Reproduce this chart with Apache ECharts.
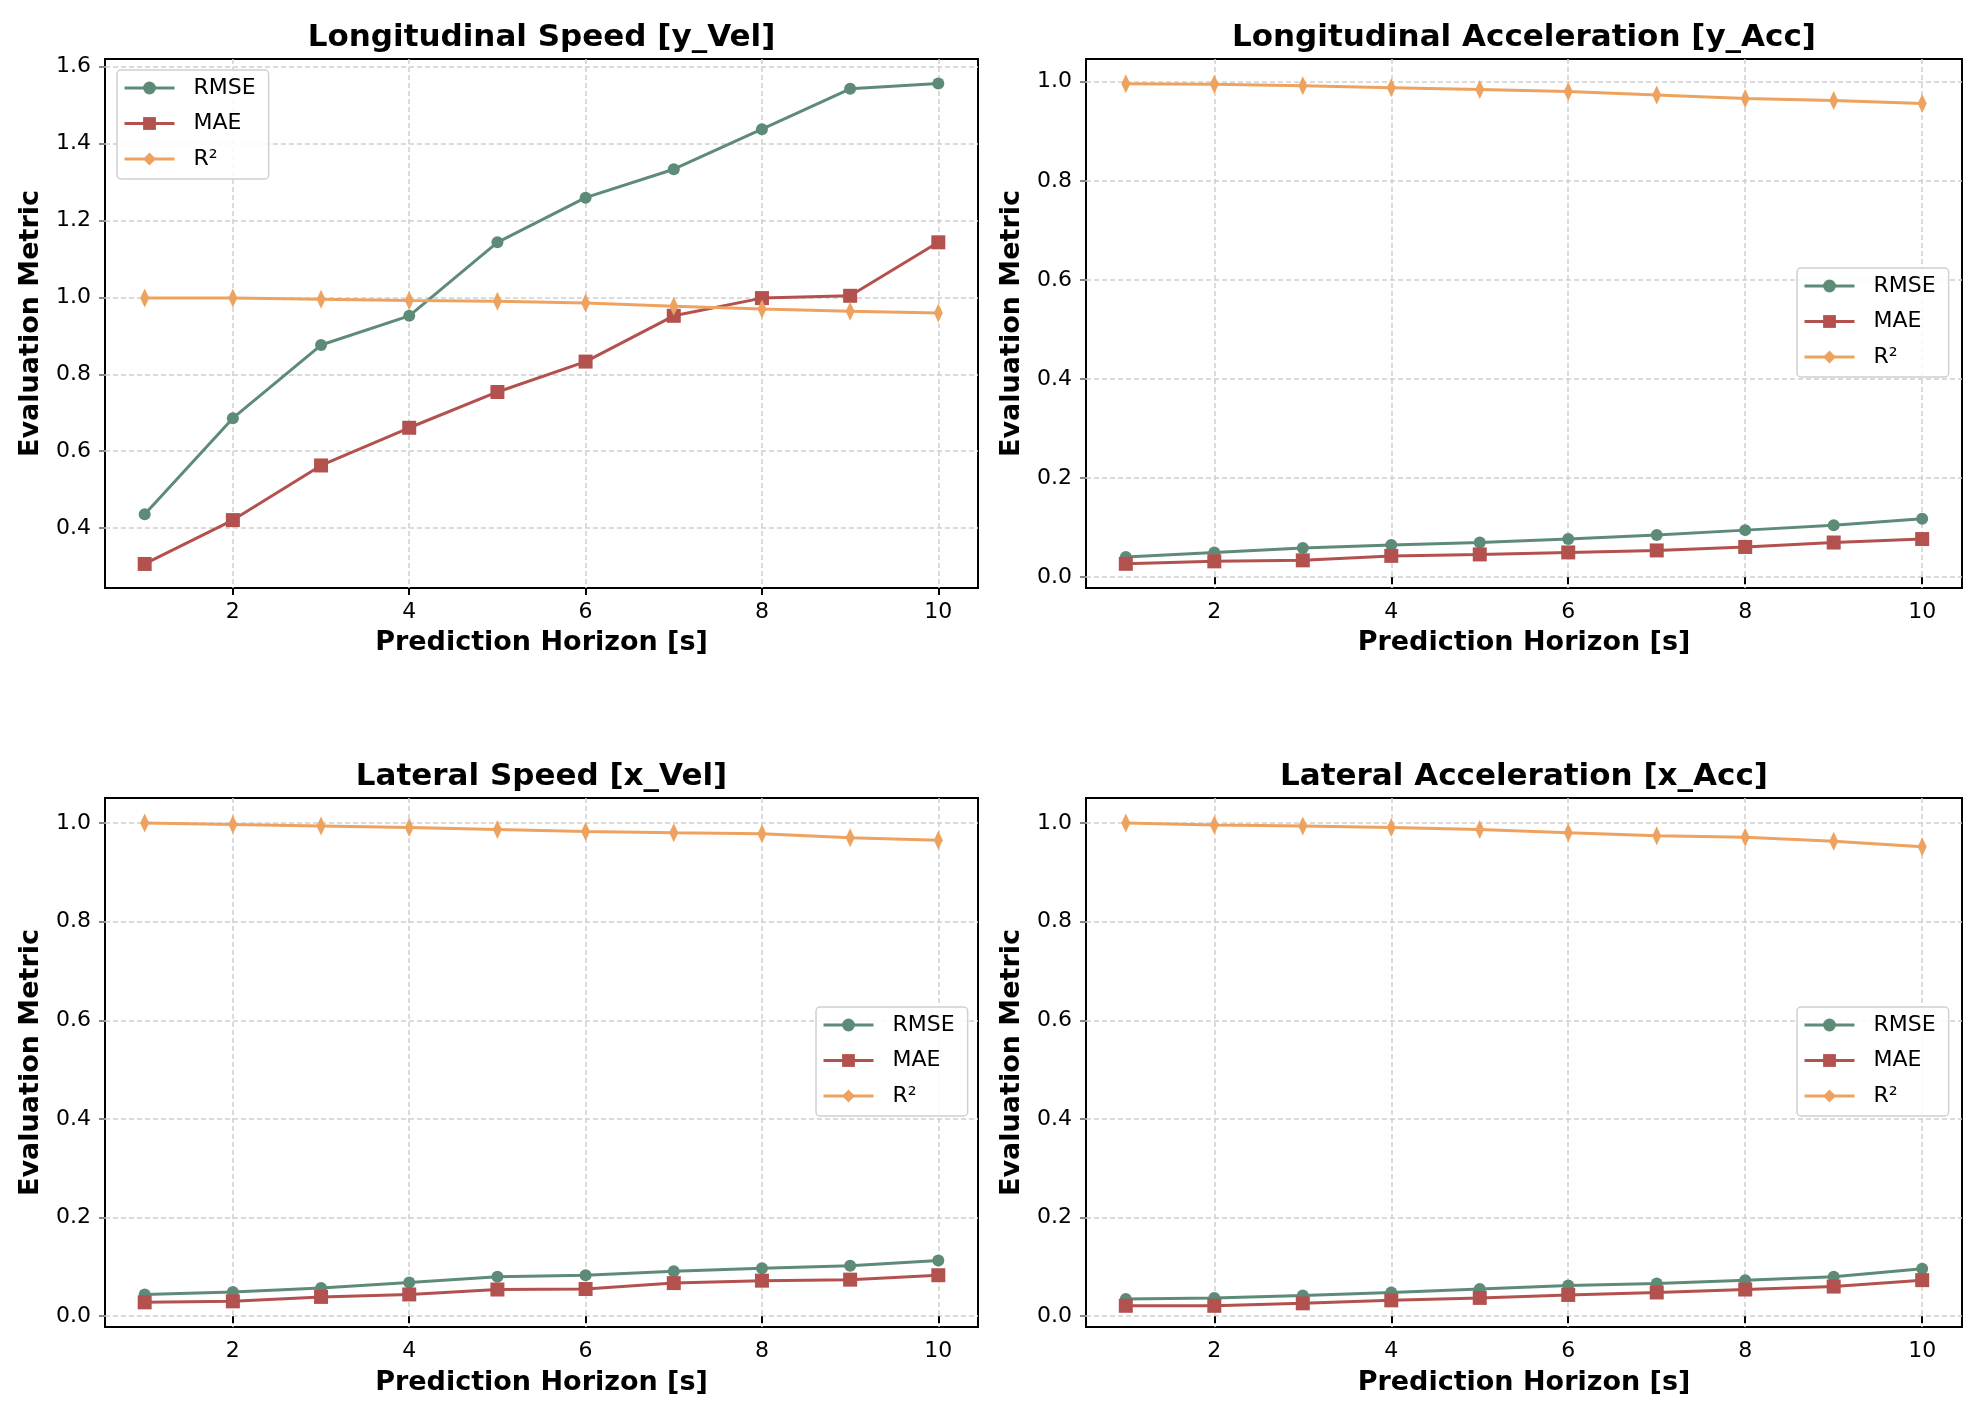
<!DOCTYPE html>
<html>
<head>
<meta charset="utf-8">
<script src="https://cdn.jsdelivr.net/npm/echarts@6/dist/echarts.min.js"></script>
<style>
html,body{margin:0;padding:0;background:#fff;}
#chart{width:1983px;height:1416px;}
</style>
</head>
<body>
<div id="chart"></div>
<script>
// ---- data ----
const horizons = [1, 2, 3, 4, 5, 6, 7, 8, 9, 10];
const xTicks = [2, 4, 6, 8, 10];
const yTicksYVel = [0.4, 0.6, 0.8, 1.0, 1.2, 1.4, 1.6];
const yTicksUnit = [0.0, 0.2, 0.4, 0.6, 0.8, 1.0];
const seriesNames = ['RMSE', 'MAE', 'R²'];
const panelTitles = ['Longitudinal Speed [y_Vel]', 'Longitudinal Acceleration [y_Acc]', 'Lateral Speed [x_Vel]', 'Lateral Acceleration [x_Acc]'];

const yVelRMSE = [0.436, 0.686, 0.876, 0.952, 1.143, 1.259, 1.333, 1.437, 1.542, 1.556];
const yVelMAE  = [0.307, 0.421, 0.563, 0.661, 0.754, 0.833, 0.952, 0.998, 1.004, 1.143];
const yVelR2   = [0.998, 0.998, 0.995, 0.992, 0.990, 0.985, 0.977, 0.970, 0.964, 0.959];

const yAccRMSE = [0.041, 0.050, 0.059, 0.065, 0.070, 0.077, 0.085, 0.095, 0.105, 0.118];
const yAccMAE  = [0.027, 0.032, 0.034, 0.043, 0.046, 0.050, 0.054, 0.061, 0.070, 0.077];
const yAccR2   = [0.996, 0.995, 0.992, 0.988, 0.984, 0.980, 0.973, 0.966, 0.962, 0.956];

const xVelRMSE = [0.044, 0.049, 0.057, 0.068, 0.080, 0.083, 0.091, 0.097, 0.102, 0.113];
const xVelMAE  = [0.028, 0.030, 0.039, 0.044, 0.054, 0.055, 0.067, 0.072, 0.074, 0.083];
const xVelR2   = [1.000, 0.997, 0.994, 0.991, 0.987, 0.983, 0.980, 0.978, 0.970, 0.965];

const xAccRMSE = [0.035, 0.037, 0.042, 0.048, 0.055, 0.062, 0.066, 0.073, 0.080, 0.096];
const xAccMAE  = [0.021, 0.021, 0.026, 0.032, 0.037, 0.043, 0.048, 0.054, 0.060, 0.073];
const xAccR2   = [1.000, 0.996, 0.994, 0.991, 0.987, 0.980, 0.974, 0.971, 0.963, 0.952];

// ---- layout / style ----
const FONT = 'DejaVu Sans';
const colors = ['#5e8b78', '#b3514f', '#eda35f'];
const symbols = ['circle', 'rect', 'diamond'];
const symbolSizes = [12, 14, [9, 19]];

const panels = [
  {grid: {left: 105, top: 59, width: 873, height: 529}, yMin: 0.2445, yMax: 1.6195, yTicks: yTicksYVel,
   data: [yVelRMSE, yVelMAE, yVelR2], legend: {left: 117, top: 70}, titleY: 38, xNameGap: 41},
  {grid: {left: 1086, top: 59, width: 876, height: 529}, yMin: -0.0218, yMax: 1.0458, yTicks: yTicksUnit,
   data: [yAccRMSE, yAccMAE, yAccR2], legend: {left: 1797, top: 268}, titleY: 38, xNameGap: 41},
  {grid: {left: 105, top: 798, width: 873, height: 529}, yMin: -0.022, yMax: 1.0507, yTicks: yTicksUnit,
   data: [xVelRMSE, xVelMAE, xVelR2], legend: {left: 816, top: 1007}, titleY: 777, xNameGap: 42},
  {grid: {left: 1086, top: 798, width: 876, height: 529}, yMin: -0.022, yMax: 1.0507, yTicks: yTicksUnit,
   data: [xAccRMSE, xAccMAE, xAccR2], legend: {left: 1797, top: 1007}, titleY: 777, xNameGap: 42}
];

const option = {
  animation: false,
  backgroundColor: '#ffffff',
  title: [], grid: [], xAxis: [], yAxis: [], legend: [], series: []
};

panels.forEach((p, i) => {
  option.title.push({
    text: panelTitles[i],
    left: p.grid.left + p.grid.width / 2,
    top: p.titleY,
    textAlign: 'center',
    textVerticalAlign: 'middle',
    padding: 0,
    textStyle: {fontFamily: FONT, fontWeight: 'bold', fontSize: 31, color: '#000'}
  });
  option.grid.push(Object.assign({show: true, borderColor: '#000', borderWidth: 2, backgroundColor: 'transparent', containLabel: false}, p.grid));
  option.xAxis.push({
    type: 'value', gridIndex: i, min: 0.55, max: 10.45,
    name: 'Prediction Horizon [s]', nameLocation: 'middle', nameGap: p.xNameGap,
    nameTextStyle: {fontFamily: FONT, fontWeight: 'bold', fontSize: 27, color: '#000'},
    axisLine: {show: false},
    axisTick: {show: true, length: 7, lineStyle: {color: '#000', width: 2}, customValues: xTicks},
    axisLabel: {fontFamily: FONT, fontSize: 22, color: '#000', margin: 13, customValues: xTicks,
      formatter: v => String(Math.round(v))},
    splitLine: {show: true, lineStyle: {color: '#cfcfcf', type: [5, 3], width: 1.5}}
  });
  option.yAxis.push({
    type: 'value', gridIndex: i, min: p.yMin, max: p.yMax,
    name: 'Evaluation Metric', nameLocation: 'middle', nameGap: 61,
    nameTextStyle: {fontFamily: FONT, fontWeight: 'bold', fontSize: 27, color: '#000'},
    axisLine: {show: false},
    axisTick: {show: true, length: 6, lineStyle: {color: '#888', width: 2}, customValues: p.yTicks},
    axisLabel: {fontFamily: FONT, fontSize: 22, color: '#000', margin: 14, customValues: p.yTicks,
      formatter: v => v.toFixed(1)},
    splitLine: {show: true, lineStyle: {color: '#cfcfcf', type: [5, 3], width: 1.5}}
  });
  const legendNames = [];
  p.data.forEach((arr, k) => {
    const name = seriesNames[k];
    legendNames.push(name);
    option.series.push({
      name: name, type: 'line', xAxisIndex: i, yAxisIndex: i,
      data: horizons.map((h, j) => [h, arr[j]]),
      symbol: symbols[k], symbolSize: symbolSizes[k], showSymbol: true,
      lineStyle: {color: colors[k], width: 3},
      itemStyle: {color: colors[k], borderWidth: 0},
      z: 3 + k
    });
  });
  option.legend.push({
    data: legendNames, orient: 'vertical', left: p.legend.left, top: p.legend.top,
    itemWidth: 50, itemHeight: 16, itemGap: 13.5,
    padding: [7, 13, 9, 6],
    lineStyle: {width: 3},
    backgroundColor: 'rgba(255,255,255,0.85)', borderColor: '#d0d0d0', borderWidth: 1.5, borderRadius: 4,
    textStyle: {fontFamily: FONT, fontSize: 22, color: '#000', lineHeight: 22, padding: [0, 0, 0, 14]},
    selectedMode: false
  });
});

const chart = echarts.init(document.getElementById('chart'), null, {renderer: 'canvas'});
chart.setOption(option);
</script>
</body>
</html>
